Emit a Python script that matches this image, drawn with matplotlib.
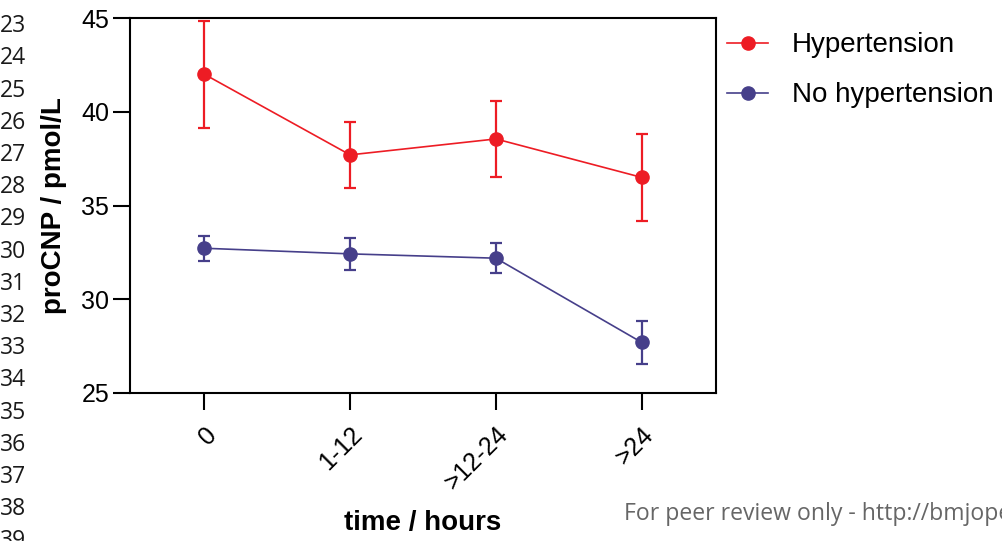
import matplotlib.pyplot as plt
import numpy as np

plt.rcParams["font.family"] = ["Liberation Sans", "DejaVu Sans"]

categories = ["0", "1-12", ">12-24", ">24"]
hyper_mean = [42.0, 37.7, 38.55, 36.5]
hyper_err = [2.85, 1.75, 2.05, 2.3]
nohyper_mean = [32.72, 32.42, 32.19, 27.7]
nohyper_err = [0.68, 0.85, 0.81, 1.15]
line_numbers = list(range(22, 40))

red = "#ED1C24"
blue = "#463F8A"

fig = plt.figure(figsize=(10.02, 5.41), dpi=100)
ax = fig.add_axes([130 / 1002, 1 - 393 / 541, 586 / 1002, 375 / 541])

x = np.arange(len(categories))
ax.errorbar(x, hyper_mean, yerr=hyper_err, color=red, marker="o", markersize=9.5,
            linewidth=1.2, elinewidth=1.6, capsize=4, capthick=1.6, label="Hypertension")
ax.errorbar(x, nohyper_mean, yerr=nohyper_err, color=blue, marker="o", markersize=9.5,
            linewidth=1.2, elinewidth=1.6, capsize=4, capthick=1.6, label="No hypertension")

ax.set_xlim(-0.51, 3.51)
ax.set_ylim(25, 45)
ax.set_yticks([25, 30, 35, 40, 45])
ax.set_xticks(x)
ax.set_xticklabels(categories, rotation=45, ha="right", va="top", rotation_mode="anchor")
ax.tick_params(axis="both", direction="out", length=12, width=1.5, labelsize=18, pad=3)
ax.tick_params(axis="x", pad=9)
for s in ax.spines.values():
    s.set_linewidth(1.5)

ax.set_ylabel("proCNP / pmol/L", fontsize=20, fontweight="bold")
ax.yaxis.set_label_coords(-0.107, 0.5)
ax.set_xlabel("time / hours", fontsize=20, fontweight="bold")
ax.xaxis.set_label_coords(0.5, -0.313)

handles, labels = ax.get_legend_handles_labels()
handles = [h[0] for h in handles]
ax.legend(handles, labels, loc="upper left", bbox_to_anchor=(1.019, 0.962), frameon=False,
          fontsize=20, handlelength=1.48, handletextpad=0.86, labelspacing=0.87,
          borderaxespad=0, borderpad=0)

for i, n in enumerate(line_numbers):
    y_px = -6 + i * 32.2
    fig.text(0.0, 1 - y_px / 541, str(n), fontsize=16.5, family="Open Sans",
             ha="left", va="center", color="#1a1a1a")

fig.text(624 / 1002, 1 - 514 / 541,
         "For peer review only - http://bmjopen.bmj.com/site/about/guidelines.xhtml",
         fontsize=16.6, family="Open Sans", color="#666666", ha="left", va="center")

fig.savefig("out.png", dpi=100)
